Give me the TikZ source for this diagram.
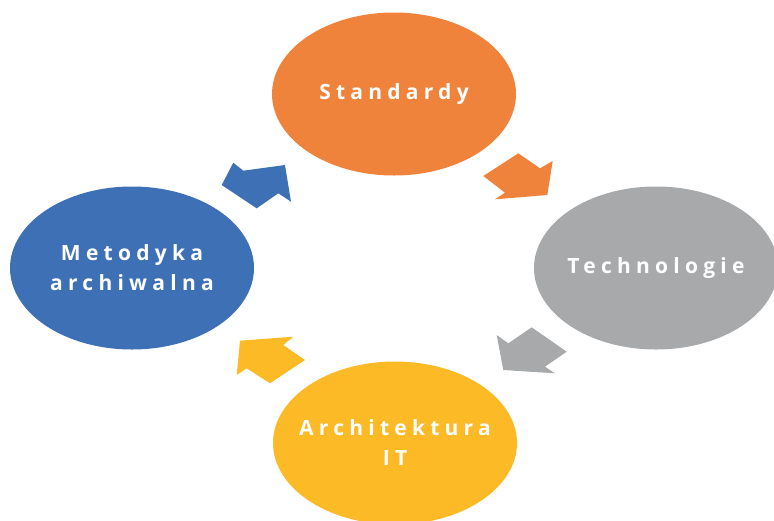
\documentclass[tikz,border=0pt]{standalone}
\usepackage{fontspec}
\setmainfont{Open Sans}[LetterSpace=25]
\usetikzlibrary{shapes.geometric}

\definecolor{OrangeC}{HTML}{F0833B}
\definecolor{BlueC}{HTML}{3E70B6}
\definecolor{GrayC}{HTML}{A7A9AB}
\definecolor{YellowC}{HTML}{FDBA27}

\begin{document}
\begin{tikzpicture}[x=1pt, y=-1pt]
\useasboundingbox (0,0) rectangle (774,520);

\tikzset{PhaseStyle/.style = {
 shape = ellipse,
 inner xsep = -40pt,
 inner ysep = 0pt,
 minimum width = 244pt,
 minimum height = 163pt,
 text = white,
 align = center,
 font = \fontsize{21}{30}\selectfont\bfseries} }

\node[PhaseStyle, fill=OrangeC] (S) at (394, 94) {Standardy};
\node[PhaseStyle, fill=GrayC] (T) at (656, 268) {Technologie};
\node[PhaseStyle, fill=YellowC] (A) at (395, 443) {Architektura\\IT};
\node[PhaseStyle, fill=BlueC] (M) at (132, 268) {Metodyka\\archiwalna};

% block arrows between the phases
\fill[BlueC] (221.7,185) -- (233.3,162.7) -- (243.3,170.7) -- (285,165)
 -- (291,201.7) -- (278.3,193.3) -- (256.7,208.3) -- cycle;
\fill[OrangeC] (483.3,176) -- (518.3,153.3) -- (540,168.3) -- (552.7,161)
 -- (547.3,195) -- (495,199.3) -- (505,192.7) -- cycle;
\fill[GrayC] (531.7,327.3) -- (566.7,351.7) -- (545,366.7) -- (555,373.3)
 -- (503.3,370) -- (496.7,335) -- (508.3,343.3) -- cycle;
\fill[YellowC] (240,340.7) -- (293.3,336.7) -- (283.3,345) -- (305,360)
 -- (270,383.3) -- (246.7,368.3) -- (236.7,375) -- cycle;

\end{tikzpicture}
\end{document}
